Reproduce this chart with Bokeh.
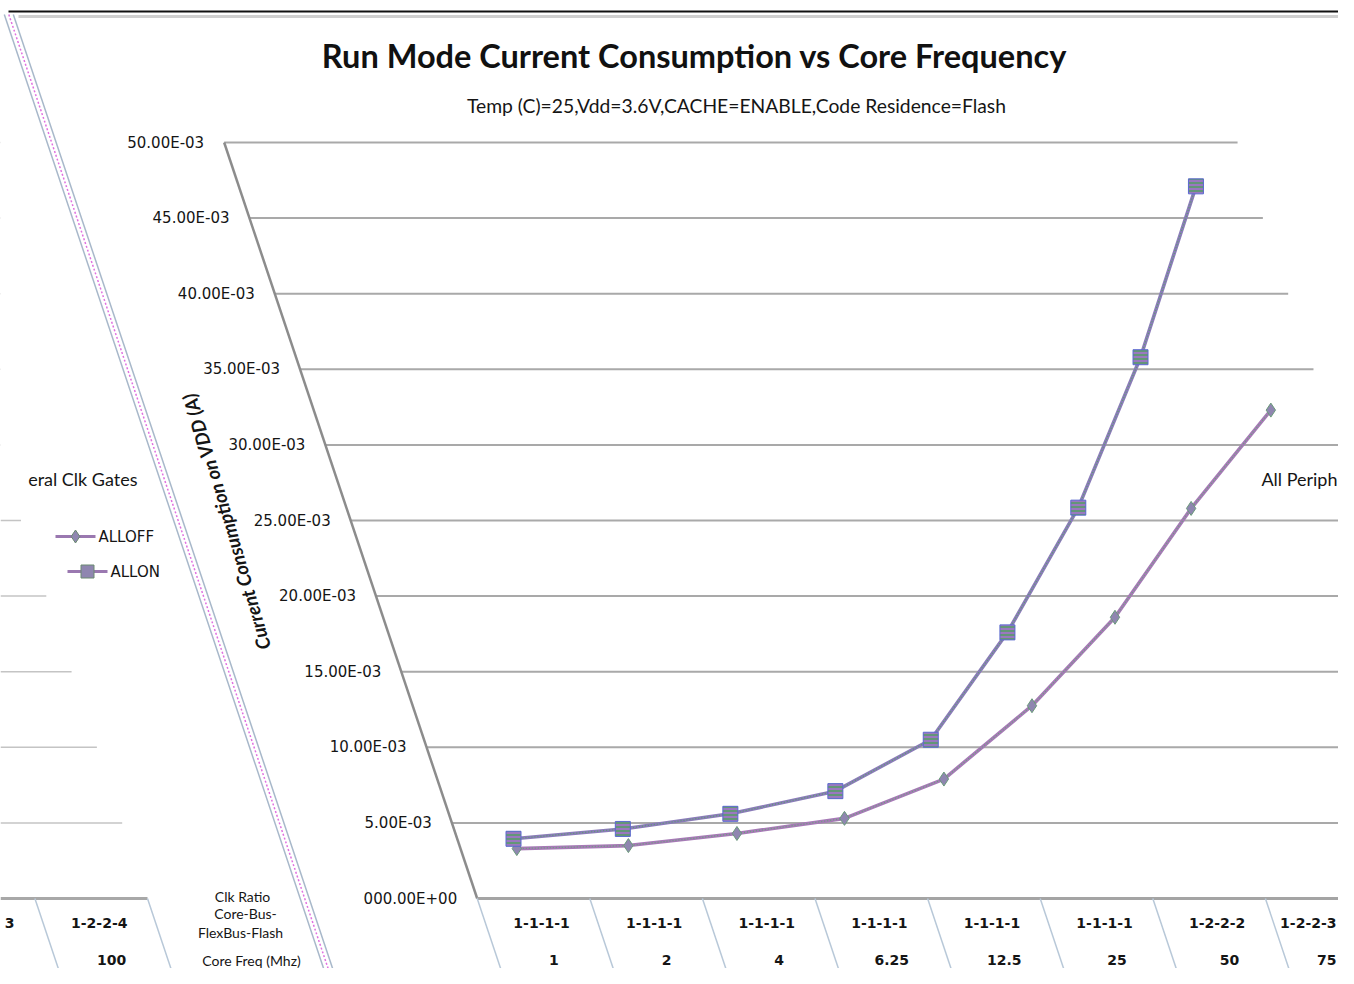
import numpy as np
from bokeh.plotting import figure
from bokeh.models import Range1d
from bokeh.core.properties import value
from bokeh.embed import file_html
from bokeh.resources import INLINE

# ---------------- data ----------------
core_freq = ["1", "2", "4", "6.25", "12.5", "25", "50", "75", "100"]
clk_ratio = ["1-1-1-1", "1-1-1-1", "1-1-1-1", "1-1-1-1", "1-1-1-1",
             "1-1-1-1", "1-2-2-2", "1-2-2-3", "1-2-2-4"]
alloff = [3.30e-3, 3.50e-3, 4.30e-3, 5.30e-3, 7.90e-3, 12.75e-3, 18.60e-3, 25.80e-3, 32.30e-3]
allon = [3.95e-3, 4.60e-3, 5.60e-3, 7.10e-3, 10.50e-3, 17.60e-3, 25.85e-3, 35.80e-3, 47.10e-3]
y_ticks = [0.0, 5e-3, 10e-3, 15e-3, 20e-3, 25e-3, 30e-3, 35e-3, 40e-3, 45e-3, 50e-3]
y_tick_labels = ["000.00E+00", "5.00E-03", "10.00E-03", "15.00E-03", "20.00E-03",
                 "25.00E-03", "30.00E-03", "35.00E-03", "40.00E-03", "45.00E-03", "50.00E-03"]
title = "Run Mode Current Consumption vs Core Frequency"
subtitle = "Temp (C)=25,Vdd=3.6V,CACHE=ENABLE,Code Residence=Flash"
y_title = "Current Consumption  on VDD (A)"
row_headers = ["Clk Ratio", "Core-Bus-", "FlexBus-Flash", "Core Freq (Mhz)"]
series_names = ["ALLOFF", "ALLON"]
# visible parts of the neighbouring (background) charts
left_title_part = "eral Clk Gates"
left_label_part = "3"
right_title_part = "All Periph"

# ---------------- layout (the screenshot is sheared) ----------------
FIG_W, FIG_H = 1338, 968
CAT_PX = 112.6          # pixels per category
CAT0_X = 533.0          # pixel x of first category centre on the zero line
ZERO_Y = 898.0          # pixel y of the zero line
PX_PER_A = 15120.0      # pixels per ampere
SHEAR = 0.3347          # horizontal shift per pixel of height
K = -SHEAR * PX_PER_A / CAT_PX   # category units per ampere

def sx(c, y):
    return c + K * y

def P(xp, yp):
    return ((xp - CAT0_X) / CAT_PX, (ZERO_Y - yp) / PX_PER_A)

def to_px(xd):
    return CAT0_X + xd * CAT_PX

x0, y0 = P(0, FIG_H)
x1, y1 = P(FIG_W, 0)

p = figure(width=FIG_W, height=FIG_H, x_range=Range1d(x0, x1), y_range=Range1d(y0, y1),
           output_backend="svg", toolbar_location=None, min_border=0,
           x_axis_location=None, y_axis_location=None)
p.grid.visible = False
p.outline_line_color = None
p.background_fill_color = "white"
p.border_fill_color = "white"

FONT_T = value("Lato")
FONT_A = value("DejaVu Sans")
TXT = "#151515"
N = len(core_freq)
LEFT_EDGE = -0.5
RIGHT_EDGE = N - 0.5
ROW_BOTTOM = -77 / PX_PER_A
ROW1 = -24 / PX_PER_A
ROW2 = -61 / PX_PER_A

# ---------- frame decorations ----------
a = P(8, 11); b = P(FIG_W, 11)
p.segment(a[0], a[1], b[0], b[1], line_color="#111111", line_width=2)
a = P(18, 16); b = P(FIG_W, 16)
p.segment(a[0], a[1], b[0], b[1], line_color="#cfcfcf", line_width=3)
for off, col, w, dash in [(-4.5, "#a8b8ca", 1.5, "solid"), (4.5, "#a8b8ca", 1.5, "solid"),
                          (0, "#e070e0", 1.5, "2 2")]:
    ta = P(13 + off + SHEAR * (14 - 28), 14)
    tb = P(13 + off + SHEAR * (984 - 28), 984)
    p.segment(ta[0], ta[1], tb[0], tb[1], line_color=col, line_width=w, line_dash=dash)

# ---------- left (background) chart fragment ----------
L_EDGE = P(147, ZERO_Y)[0]
grid_l = [t for t in y_ticks[1:]]
p.segment([x0] * len(grid_l), grid_l, [sx(L_EDGE, t) for t in grid_l], grid_l,
          line_color="#c4c4c4", line_width=1.5)
p.segment(x0, 0, L_EDGE, 0, line_color="#a8a8a8", line_width=3)
for e in [L_EDGE, L_EDGE - 1]:
    p.segment(e, 0, sx(e, ROW_BOTTOM), ROW_BOTTOM, line_color="#b8c8d8", line_width=1.5)
p.text(x=[sx(L_EDGE - 0.5, ROW1), sx(L_EDGE - 0.5, ROW2)], y=[ROW1, ROW2],
       text=[clk_ratio[-1], core_freq[-1]], text_align="center", text_baseline="middle",
       text_font=FONT_A, text_font_style="bold", text_font_size="14px", text_color=TXT)
lp = P(9, 922)
p.text(x=[lp[0]], y=[lp[1]], text=[left_label_part], text_align="center",
       text_baseline="middle", text_font=FONT_A, text_font_style="bold",
       text_font_size="14px", text_color=TXT)
tp = P(137, 478)
p.text(x=[tp[0]], y=[tp[1]], text=[left_title_part], text_align="right",
       text_baseline="middle", text_font=FONT_T, text_font_size="18px", text_color=TXT)
# legend
for name, (lx, ly), marker, msize in [(series_names[0], (55, 536), "diamond", 13),
                                      (series_names[1], (67, 571), "square", 13)]:
    la = P(lx, ly); lb = P(lx + 40, ly); lm = P(lx + 20, ly); lt = P(lx + 43, ly)
    p.segment(la[0], la[1], lb[0], lb[1], line_color="#9a78b0", line_width=3)
    p.scatter([lm[0]], [lm[1]], marker=marker, size=msize, fill_color="#8f86b0",
              line_color="#6a8a70", line_width=1)
    p.text(x=[lt[0]], y=[lt[1]], text=[name], text_align="left", text_baseline="middle",
           text_font=FONT_A, text_font_size="15px", text_color=TXT)
# row headers
for txt, (hx, hy) in zip(row_headers, [(242, 896), (245, 913), (240, 932), (251, 960)]):
    hp = P(hx, hy)
    p.text(x=[hp[0]], y=[hp[1]], text=[txt], text_align="center", text_baseline="middle",
           text_font=FONT_T, text_font_size="14px", text_color=TXT)

rp = P(FIG_W - 1, 478)
p.text(x=[rp[0]], y=[rp[1]], text=[right_title_part], text_align="right",
       text_baseline="middle", text_font=FONT_T, text_font_size="18px", text_color=TXT)

# ---------- main chart ----------
grid = y_ticks[1:]
p.segment([sx(LEFT_EDGE, t) for t in grid], grid, [sx(RIGHT_EDGE, t) for t in grid], grid,
          line_color="#a9a9a9", line_width=2)
p.segment(sx(LEFT_EDGE, 0), 0, sx(LEFT_EDGE, y_ticks[-1]), y_ticks[-1],
          line_color="#8c8c8c", line_width=2.5)
p.segment(sx(LEFT_EDGE, 0), 0, x1, 0, line_color="#a4a4a4", line_width=3)
p.text(x=[sx(LEFT_EDGE, t) - 20 / CAT_PX for t in y_ticks], y=y_ticks, text=y_tick_labels,
       text_align="right", text_baseline="middle", text_font=FONT_A,
       text_font_size="15px", text_color=TXT)
edges = [LEFT_EDGE + k for k in range(N + 1)]
p.segment(edges, [0] * len(edges), [sx(e, ROW_BOTTOM) for e in edges], [ROW_BOTTOM] * len(edges),
          line_color="#b8c8d8", line_width=1.5)

# category labels (those running past the picture edge are pulled inside it)
edge_x = P(FIG_W - 2, 0)[0]
for labels, row, half in [(clk_ratio, ROW1, 29), (core_freq, ROW2, 12)]:
    xs_c, ys_c, tx_c, xs_r, ys_r, tx_r = [], [], [], [], [], []
    for c, lab in enumerate(labels):
        cx = to_px(sx(c, row))
        if cx > FIG_W + 5:
            continue
        if cx + half > FIG_W:
            xs_r.append(edge_x); ys_r.append(row); tx_r.append(lab)
        else:
            xs_c.append(sx(c, row)); ys_c.append(row); tx_c.append(lab)
    p.text(x=xs_c, y=ys_c, text=tx_c, text_align="center", text_baseline="middle",
           text_font=FONT_A, text_font_style="bold", text_font_size="14px", text_color=TXT)
    p.text(x=xs_r, y=ys_r, text=tx_r, text_align="right", text_baseline="middle",
           text_font=FONT_A, text_font_style="bold", text_font_size="14px", text_color=TXT)

# titles
tp = P(694, 55)
p.text(x=[tp[0]], y=[tp[1]], text=[title], text_align="center", text_baseline="middle",
       text_font=FONT_T, text_font_style="bold", text_font_size="32.5px", text_color="#111111")
sp = P(736, 105)
p.text(x=[sp[0]], y=[sp[1]], text=[subtitle], text_align="center", text_baseline="middle",
       text_font=FONT_T, text_font_size="19.3px", text_color=TXT)
yp = P(225, 519)
p.text(x=[yp[0]], y=[yp[1]], text=[y_title], angle=np.deg2rad(106.5), text_align="center",
       text_baseline="middle", text_font=FONT_T, text_font_style="bold italic",
       text_font_size="19px", text_color=TXT)

# data series
cats = list(range(N))
xs_off = [sx(c, v) for c, v in zip(cats, alloff)]
xs_on = [sx(c, v) for c, v in zip(cats, allon)]
for xs, ys, base, over in [(xs_off, alloff, "#a67ab6", "#66a47a"), (xs_on, allon, "#8a7cb8", "#5c9e6c")]:
    p.line(xs, ys, line_color=base, line_width=3.6)
    p.line(xs, ys, line_color=over, line_width=1.3, line_dash="1 2")
p.scatter(xs_off, alloff, marker="diamond", size=14, fill_color="#8f86b0",
          line_color="#6a9a7a", line_width=1)
p.scatter(xs_on, allon, marker="square", size=15, fill_color="#9a78c0",
          hatch_pattern="-", hatch_color="#50a060", hatch_scale=4, hatch_weight=1.5,
          line_color="#5a6ad0", line_width=1)

open("out.html", "w").write(file_html(p, INLINE))
